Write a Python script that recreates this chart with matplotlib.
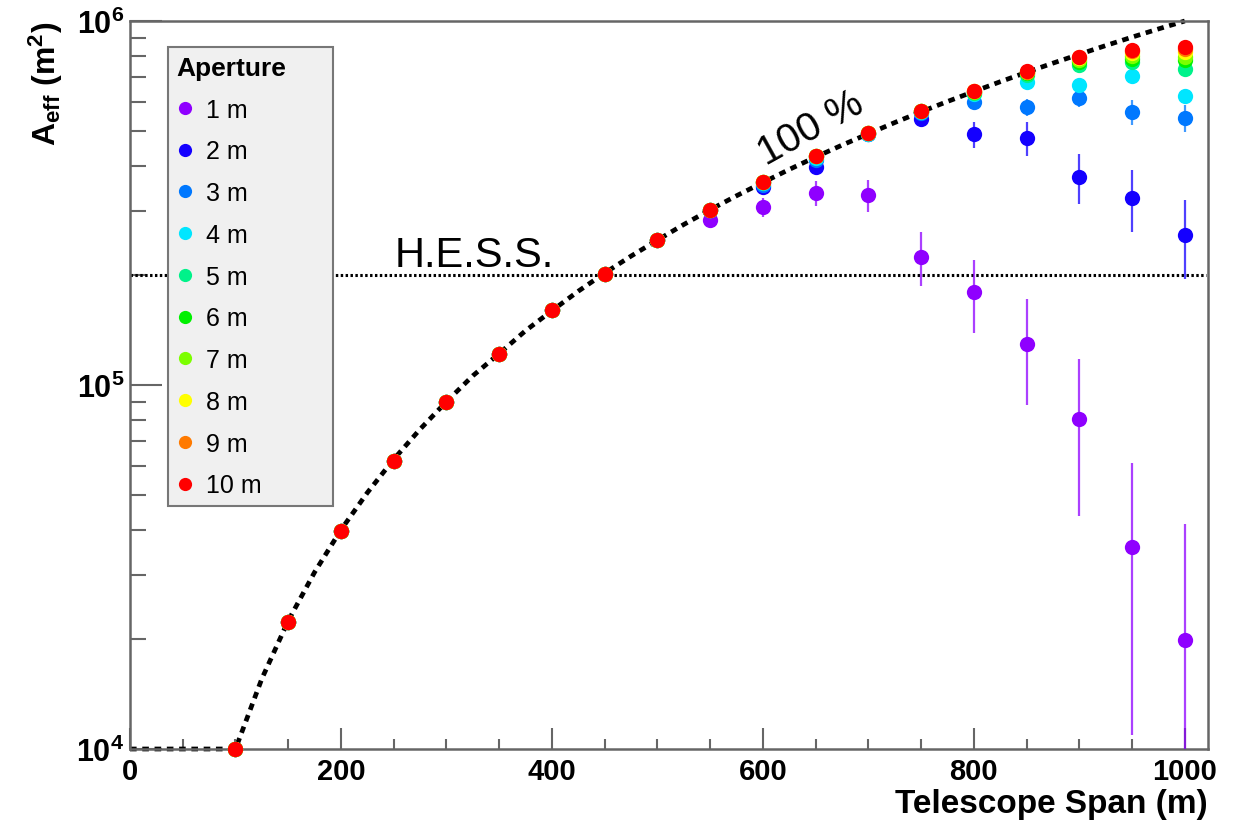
import numpy as np
import matplotlib
matplotlib.use("Agg")
import matplotlib.pyplot as plt
from matplotlib.lines import Line2D
from matplotlib.ticker import FixedLocator, FuncFormatter, NullFormatter

plt.rcParams['font.family'] = ['Liberation Sans', 'DejaVu Sans']
plt.rcParams['mathtext.fontset'] = 'custom'
plt.rcParams['mathtext.rm'] = 'Liberation Sans'
plt.rcParams['mathtext.bf'] = 'Liberation Sans:bold'
plt.rcParams['mathtext.it'] = 'Liberation Sans:italic'

# telescope span (m) for the simulated points
span = [100, 150, 200, 250, 300, 350, 400, 450, 500,
        550, 600, 650, 700, 750, 800, 850, 900, 950, 1000]

# 100 m .. 500 m: every aperture sits on the full-coverage value
area_low = [1.0e4, 2.23e4, 3.97e4, 6.2e4, 8.98e4, 1.22e5, 1.61e5, 2.02e5, 2.5e5]
err_low = [300, 500, 700, 1000, 1300, 1600, 2000, 2500, 3000]

# 550 m .. 1000 m, per aperture
apertures = ['1 m', '2 m', '3 m', '4 m', '5 m', '6 m', '7 m', '8 m', '9 m', '10 m']
colors = ['#8f00ff', '#1400ff', '#0078ff', '#00e6ff', '#00f28a',
          '#00f000', '#7cff00', '#ffff00', '#ff7a00', '#ff0000']

a1 = [2.84e5, 3.08e5, 3.37e5, 3.32e5, 2.25e5, 1.80e5, 1.30e5, 8.07e4, 3.59e4, 1.99e4]
a2 = [3.03e5, 3.5e5, 3.96e5, 4.9e5, 5.37e5, 4.88e5, 4.77e5, 3.72e5, 3.26e5, 2.59e5]
a3 = [3.03e5, 3.55e5, 4.15e5, 4.9e5, 5.6e5, 6.0e5, 5.8e5, 6.16e5, 5.62e5, 5.42e5]
a4 = [3.03e5, 3.6e5, 4.2e5, 4.9e5, 5.63e5, 6.3e5, 6.8e5, 6.69e5, 7.04e5, 6.21e5]
a5 = [3.03e5, 3.61e5, 4.25e5, 4.92e5, 5.65e5, 6.35e5, 7.1e5, 7.55e5, 7.7e5, 7.4e5]
a6 = [3.03e5, 3.61e5, 4.25e5, 4.92e5, 5.66e5, 6.38e5, 7.18e5, 7.7e5, 7.85e5, 7.8e5]
a7 = [3.03e5, 3.61e5, 4.25e5, 4.92e5, 5.66e5, 6.4e5, 7.22e5, 7.8e5, 8.0e5, 7.95e5]
a8 = [3.03e5, 3.61e5, 4.25e5, 4.92e5, 5.66e5, 6.41e5, 7.25e5, 7.9e5, 8.15e5, 8.2e5]
a9 = [3.03e5, 3.61e5, 4.25e5, 4.92e5, 5.66e5, 6.41e5, 7.26e5, 7.95e5, 8.28e5, 8.38e5]
a10 = [3.03e5, 3.61e5, 4.25e5, 4.92e5, 5.66e5, 6.41e5, 7.27e5, 7.97e5, 8.35e5, 8.47e5]

e1 = [0.8e4, 1.8e4, 2.6e4, 3.3e4, 3.8e4, 4.1e4, 4.2e4, 3.7e4, 2.5e4, 2.16e4]
e2 = [0.5e4, 1.0e4, 1.5e4, 2.0e4, 2.5e4, 4.0e4, 5.0e4, 5.8e4, 6.3e4, 6.3e4]
e3 = [0.5e4, 0.8e4, 1.0e4, 1.5e4, 2.0e4, 2.5e4, 3.0e4, 3.5e4, 4.5e4, 4.5e4]
e4 = [0.4e4, 0.6e4, 0.8e4, 1.0e4, 1.5e4, 2.0e4, 2.5e4, 3.0e4, 3.0e4, 3.0e4]
e5 = [0.4e4, 0.5e4, 0.6e4, 0.8e4, 1.0e4, 1.5e4, 2.0e4, 2.0e4, 2.5e4, 2.5e4]
e6 = [0.4e4, 0.5e4, 0.6e4, 0.8e4, 1.0e4, 1.2e4, 1.5e4, 2.0e4, 2.0e4, 2.0e4]
e7 = [0.4e4, 0.5e4, 0.6e4, 0.8e4, 1.0e4, 1.2e4, 1.5e4, 1.5e4, 2.0e4, 2.0e4]
e8 = [0.4e4, 0.5e4, 0.6e4, 0.8e4, 1.0e4, 1.0e4, 1.2e4, 1.5e4, 1.5e4, 1.5e4]
e9 = [0.4e4, 0.5e4, 0.6e4, 0.8e4, 1.0e4, 1.0e4, 1.2e4, 1.5e4, 1.5e4, 1.5e4]
e10 = [0.4e4, 0.5e4, 0.6e4, 0.8e4, 1.0e4, 1.0e4, 1.2e4, 1.2e4, 1.5e4, 1.5e4]

tails = [a1, a2, a3, a4, a5, a6, a7, a8, a9, a10]
tail_errs = [e1, e2, e3, e4, e5, e6, e7, e8, e9, e10]

# 100 % coverage curve
curve_span = [0] + list(range(100, 1001, 25))
curve_area = [1.0e4, 1.0e4, 1.56e4, 2.25e4, 3.06e4, 4.0e4, 5.06e4, 6.25e4, 7.56e4,
              9.0e4, 1.06e5, 1.22e5, 1.41e5, 1.6e5, 1.81e5, 2.03e5, 2.26e5, 2.5e5,
              2.76e5, 3.03e5, 3.31e5, 3.6e5, 3.91e5, 4.23e5, 4.56e5, 4.9e5, 5.26e5,
              5.63e5, 6.01e5, 6.4e5, 6.81e5, 7.23e5, 7.66e5, 8.1e5, 8.56e5, 9.03e5,
              9.51e5, 1.0e6]

hess_span = [0, 1020]
hess_area = [2.0e5, 2.0e5]

fig = plt.figure(figsize=(12.39, 8.28), dpi=100)
ax = fig.add_axes([130 / 1239, 78 / 828, 1078 / 1239, 728 / 828])
ax.set_yscale('log')
ax.set_xlim(0, 1022)
ax.set_ylim(1e4, 1e6)

ax.plot(hess_span, hess_area, color='black', lw=2.2, ls=(0, (0.8, 0.8)), zorder=2)
ax.plot(curve_span, curve_area, color='black', lw=3.4, ls=(0, (1.4, 1.2)), zorder=2,
        clip_on=False)

handles = []
for name, col, tail, terr in zip(apertures, colors, tails, tail_errs):
    vals = area_low + tail
    errs = err_low + terr
    ax.errorbar(span, vals, yerr=errs, fmt='none', ecolor=col, elinewidth=1.6,
                alpha=0.75, capsize=0, zorder=3)
    ax.plot(span, vals, 'o', color=col, ms=11, mew=0, clip_on=False, zorder=4)
    handles.append(Line2D([], [], ls='none', marker='o', color=col, ms=9.5, mew=0,
                          label=name))

ax.text(251, 2.12e5, 'H.E.S.S.', fontsize=30, ha='left', va='baseline')
ax.text(645, 5.1e5, '100 %', fontsize=29, rotation=29, ha='center', va='center',
        rotation_mode='anchor')

leg = ax.legend(handles=handles, title='Aperture', loc='upper left',
                bbox_to_anchor=(0.035, 0.0, 0.153, 0.964), mode='expand',
                fontsize=18, alignment='left',
                title_fontproperties={'weight': 'bold', 'size': 19},
                frameon=True, fancybox=False, framealpha=1, facecolor='#f0f0f0',
                edgecolor='#777777', labelspacing=0.71, handlelength=0.7,
                handletextpad=0.5, borderpad=0.35, borderaxespad=0)
leg.get_frame().set_linewidth(1.5)

# axes styling
frame_col = '#666666'
for s in ax.spines.values():
    s.set_color(frame_col)
    s.set_linewidth(1.8)

ax.xaxis.set_major_locator(FixedLocator([0, 200, 400, 600, 800, 1000]))
ax.xaxis.set_minor_locator(FixedLocator(list(range(50, 1001, 50))))
ax.yaxis.set_major_locator(FixedLocator([1e4, 1e5, 1e6]))
ax.yaxis.set_minor_locator(FixedLocator([m * 10 ** e for e in (4, 5) for m in range(2, 10)]))
ax.yaxis.set_minor_formatter(NullFormatter())
ax.yaxis.set_major_formatter(FuncFormatter(
    lambda v, p: r'$\mathbf{10^{%d}}$' % int(round(np.log10(v)))))

ax.tick_params(axis='both', which='both', direction='in', color=frame_col, width=1.5,
               top=False, right=False)
ax.tick_params(axis='x', which='major', length=15, labelsize=21, pad=6)
ax.tick_params(axis='x', which='minor', length=7.5)
ax.tick_params(axis='y', which='major', length=23, labelsize=22, pad=4)
ax.tick_params(axis='y', which='minor', length=11.5)
for lab in ax.get_xticklabels():
    lab.set_fontweight('bold')

ax.set_xlabel('Telescope Span (m)', fontsize=24, fontweight='bold', loc='right',
              labelpad=2)
ax.set_ylabel(r'$\mathbf{A_{eff}\ (m^{2})}$', fontsize=23, loc='top', labelpad=8)

fig.savefig('out.png', dpi=100)
